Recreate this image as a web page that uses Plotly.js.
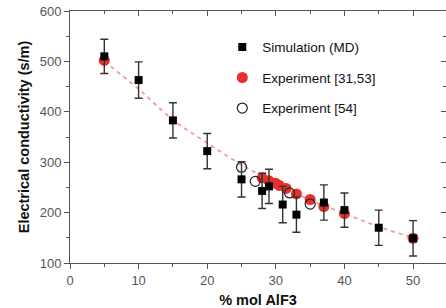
<!DOCTYPE html>
<html>
<head>
<meta charset="utf-8">
<script src="https://cdn.plot.ly/plotly-3.0.1.min.js"></script>
<style>html,body{margin:0;padding:0;background:#fff;}#chart{width:446px;height:308px;}</style>
</head>
<body>
<div id="chart"></div>
<script>
// Simulation (MD)
var simX = [5, 10, 15, 20, 25, 28, 29, 31, 33, 37, 40, 45, 50];
var simY = [510, 463, 383, 322, 266, 243, 252, 216, 196, 220, 205, 170, 149];
var simErr = [34, 36, 35, 35, 35, 35, 34, 36, 35, 35, 34, 35, 35];
// Experiment [31,53]
var exp1X = [5, 28, 29, 30, 30.5, 31.5, 33, 35, 37, 40, 50];
var exp1Y = [502, 269, 263, 258, 254, 248, 237, 226, 212, 198, 149];
// Experiment [54]
var exp2X = [25, 27, 32, 35];
var exp2Y = [290, 262, 239, 217];
// Dashed guide curve
var fitX = [5, 10, 15, 20, 25, 30, 35, 40, 45, 50];
var fitY = [500, 445, 384, 338, 295, 258, 225, 198, 172, 150];

var font = 'Liberation Sans, Arial, sans-serif';
var traces = [
  {x: fitX, y: fitY, mode: 'lines', line: {color: '#f39a9a', width: 1.8, dash: '4px,4px', shape: 'spline'}, showlegend: false, hoverinfo: 'skip'},
  {x: exp1X, y: exp1Y, mode: 'markers', name: 'Experiment [31,53]', legendgroup: 'b', legendrank: 2,
   marker: {symbol: 'circle', size: 11, color: '#e8302a'}},
  {x: exp2X, y: exp2Y, mode: 'markers', name: 'Experiment [54]', legendgroup: 'c', legendrank: 3,
   marker: {symbol: 'circle-open', size: 10, color: '#222', line: {width: 1.2, color: '#222'}}},
  {x: simX, y: simY, mode: 'markers', name: 'Simulation (MD)', legendgroup: 'a', legendrank: 1,
   marker: {symbol: 'square', size: 8, color: '#000'},
   error_y: {type: 'data', array: simErr, visible: true, color: '#333', thickness: 1.4, width: 4}},
  // carrier for the mirrored inner-tick axes (draws nothing)
  {x: [null], y: [null], xaxis: 'x2', yaxis: 'y2', mode: 'markers', showlegend: false, hoverinfo: 'skip'}
];

var layout = {
  width: 446, height: 308,
  margin: {l: 70, r: 0, t: 11, b: 45},
  paper_bgcolor: '#fff', plot_bgcolor: '#fff',
  font: {family: font, color: '#555', size: 13},
  showlegend: true,
  legend: {x: 0.405, y: 0.918, xanchor: 'left', yanchor: 'top', bgcolor: 'rgba(0,0,0,0)',
           font: {family: font, size: 13.5, color: '#111'}, traceorder: 'grouped', tracegroupgap: 10},
  xaxis: {
    range: [0, 54.8], dtick: 10, tick0: 0, ticks: 'outside', ticklen: 5, tickcolor: '#555', tickwidth: 1,
    showline: true, linecolor: '#555', linewidth: 1, mirror: true, showgrid: false, zeroline: false,
    minor: {ticks: 'outside', ticklen: 3, dtick: 5, tickcolor: '#555'},
    tickfont: {family: font, size: 13, color: '#555'},
    title: {text: '<b>% mol AlF3</b>', font: {family: font, size: 14.5, color: '#111'}, standoff: 8}
  },
  yaxis: {
    range: [100, 600], dtick: 100, ticks: 'outside', ticklen: 5, tickcolor: '#555', tickwidth: 1,
    showline: true, linecolor: '#555', linewidth: 1, mirror: true, showgrid: false, zeroline: false,
    minor: {ticks: 'outside', ticklen: 3, dtick: 50, tickcolor: '#555'},
    tickfont: {family: font, size: 13, color: '#555'},
    title: {text: '<b>Electrical conductivity (s/m)</b>', font: {family: font, size: 14.5, color: '#111'}, standoff: 6}
  },
  xaxis2: {
    overlaying: 'x', side: 'top', range: [0, 54.8], dtick: 10, tick0: 0,
    ticks: 'inside', ticklen: 5, tickcolor: '#555', showticklabels: false, showline: false, showgrid: false, zeroline: false,
    minor: {ticks: 'inside', ticklen: 3, dtick: 5, tickcolor: '#555'}
  },
  yaxis2: {
    overlaying: 'y', side: 'right', range: [100, 600], dtick: 100,
    ticks: 'inside', ticklen: 5, tickcolor: '#555', showticklabels: false, showline: false, showgrid: false, zeroline: false,
    minor: {ticks: 'inside', ticklen: 3, dtick: 50, tickcolor: '#555'}
  }
};

Plotly.newPlot('chart', traces, layout, {displayModeBar: false, staticPlot: true});
</script>
</body>
</html>
